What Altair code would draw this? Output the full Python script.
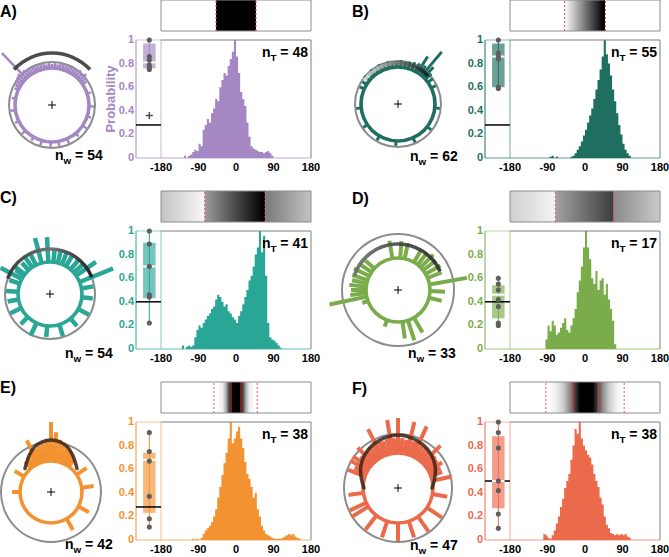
import math

import altair as alt
import pandas as pd

FONT = "Liberation Sans"
W, H = 669, 557
TAU = 2 * math.pi

# ---------------------------------------------------------------- values
panel_labels = ["A)", "B)", "C)", "D)", "E)", "F)"]
panel_colors = ["#a487c3", "#1f6f60", "#2aa696", "#7aac4b", "#f29231", "#ec6a4c"]
n_w_values = [54, 62, 54, 33, 42, 47]
n_t_values = [48, 55, 41, 17, 38, 38]
chance_levels = [0.28, 0.28, 0.40, 0.40, 0.28, 0.50]
x_ticks = [-180, -90, 0, 90, 180]
y_ticks = [0, 0.2, 0.4, 0.6, 0.8, 1]
y_tick_text = ["0", "0.2", "0.4", "0.6", "0.8", "1"]

# probability histograms, 5-degree bins starting at the given angle
hist_step = 5
hist_a_start = -125
hist_a = [0.02, 0.00, 0.02, 0.03, 0.05, 0.07, 0.06, 0.12, 0.10, 0.24,
          0.28, 0.33, 0.30, 0.38, 0.42, 0.50, 0.48, 0.60, 0.66, 0.72,
          0.70, 0.78, 0.84, 0.90, 1.00, 0.86, 0.72, 0.56, 0.50, 0.44,
          0.30, 0.18, 0.10, 0.08, 0.07, 0.06, 0.05, 0.05, 0.04, 0.05,
          0.06, 0.04, 0.02]
hist_b_start = -90
hist_b = [0.00, 0.01, 0.02, 0.00, 0.01, 0.00, 0.00, 0.00, 0.00, 0.00,
          0.00, 0.01, 0.02, 0.04, 0.07, 0.10, 0.14, 0.19, 0.24, 0.30,
          0.36, 0.42, 0.50, 0.58, 0.66, 0.75, 0.86, 1.00, 0.88, 0.80,
          0.70, 0.58, 0.48, 0.38, 0.28, 0.20, 0.12, 0.07, 0.04, 0.02]
hist_c_start = -130
hist_c = [0.03, 0.00, 0.02, 0.03, 0.02, 0.03, 0.10, 0.16, 0.20, 0.18,
          0.22, 0.25, 0.28, 0.30, 0.34, 0.36, 0.42, 0.46, 0.44, 0.40,
          0.36, 0.38, 0.32, 0.30, 0.27, 0.25, 0.22, 0.28, 0.32, 0.38,
          0.44, 0.50, 0.58, 0.62, 0.70, 0.80, 0.86, 1.00, 0.82, 0.96,
          0.62, 0.22, 0.10, 0.08, 0.07, 0.05, 0.03, 0.01]
hist_d_start = -95
hist_d = [0.08, 0.20, 0.15, 0.24, 0.20, 0.12, 0.14, 0.18, 0.22, 0.26,
          0.16, 0.14, 0.20, 0.26, 0.34, 0.48, 0.58, 0.70, 0.86, 1.00,
          0.86, 0.76, 0.60, 0.55, 0.66, 0.50, 0.58, 0.60, 0.46, 0.55,
          0.42, 0.34, 0.24, 0.04]
hist_e_start = -105
hist_e = [0.01, 0.00, 0.01, 0.00, 0.02, 0.05, 0.08, 0.10, 0.12, 0.15,
          0.20, 0.26, 0.36, 0.45, 0.55, 0.65, 0.74, 0.86, 1.00, 0.82,
          0.86, 0.92, 0.96, 0.86, 0.78, 0.66, 0.56, 0.52, 0.45, 0.36,
          0.40, 0.26, 0.20, 0.12, 0.08, 0.05, 0.04, 0.03, 0.02, 0.01,
          0.01, 0.01, 0.01, 0.02, 0.03, 0.04, 0.05, 0.04, 0.05, 0.03,
          0.02, 0.01]
hist_f_start = -100
hist_f = [0.05, 0.04, 0.02, 0.01, 0.04, 0.08, 0.14, 0.20, 0.28, 0.35,
          0.44, 0.50, 0.56, 0.68, 0.80, 0.94, 0.90, 1.00, 0.86, 0.80,
          0.76, 0.72, 0.70, 0.64, 0.56, 0.50, 0.45, 0.36, 0.30, 0.20,
          0.13, 0.10, 0.06, 0.05, 0.04, 0.05, 0.04, 0.05, 0.04, 0.05,
          0.03, 0.02]
hist_starts = [hist_a_start, hist_b_start, hist_c_start, hist_d_start, hist_e_start, hist_f_start]
hists = [hist_a, hist_b, hist_c, hist_d, hist_e, hist_f]

# box plots: low whisker, q1, median, q3, high whisker; then individual points
box_a = [0.75, 0.76, 0.81, 0.97, 1.00]
box_b = [0.59, 0.60, 0.86, 0.97, 1.00]
box_c = [0.22, 0.43, 0.70, 0.90, 1.00]
box_d = [0.20, 0.26, 0.46, 0.54, 0.60]
box_e = [0.11, 0.23, 0.68, 0.74, 0.91]
box_f = [0.10, 0.27, 0.50, 0.88, 1.00]
dots_a = [1.00, 0.86, 0.83, 0.79, 0.77, 0.75]
dots_b = [1.00, 0.89, 0.86, 0.84, 0.60, 0.59]
dots_c = [1.00, 0.89, 0.70, 0.46, 0.44, 0.22]
dots_d = [0.60, 0.55, 0.50, 0.42, 0.36, 0.22, 0.20]
dots_e = [0.91, 0.75, 0.67, 0.37, 0.18, 0.11]
dots_f = [1.00, 0.91, 0.78, 0.50, 0.42, 0.22, 0.10]
outliers_a = [0.36]
boxes = [box_a, box_b, box_c, box_d, box_e, box_f]
dots = [dots_a, dots_b, dots_c, dots_d, dots_e, dots_f]
outliers = [outliers_a, [], [], [], [], []]

# polar rose bars: direction (deg, clockwise from up) and length beyond the base circle
rose_a_angle = [-66, -60, -56, -52, -48, -44, -40, -36, -32, -28, -24, -20, -16, -12, -8, -4,
                0, 4, 8, 12, 16, 20, 24, 28, 32, 36, 40, 44, 48, 52, 56,
                72, 92, 108, 124, 140, 156, 170, 182, 196, 210, 226, 244, 262, 280, 298]
rose_a_len = [4, 6, 7, 8, 9, 35, 8, 6, 7, 5, 6, 5, 6, 5, 4, 5,
              4, 5, 4, 5, 6, 5, 6, 5, 6, 7, 8, 7, 9, 6, 5,
              4, 5, 4, 5, 4, 6, 5, 7, 5, 4, 5, 4, 5, 4, 4]
rose_b_angle = [-58, -50, -44, -38, -32, -26, -20, -14, -8, -2, 4, 10, 16, 22, 28, 32,
                36, 40, 44, 48, 54, 64, 96, 128, 156, 183, 210, 236, 264, 294, 320]
rose_b_len = [5, 7, 6, 7, 6, 7, 6, 7, 6, 6, 7, 6, 7, 8, 9, 19,
              10, 31, 14, 8, 6, 5, 5, 5, 5, 5, 5, 5, 5, 5, 5]
rose_c_angle = [-62, -52, -42, -34, -26, -15, -3, 6, 14, 22, 30, 40, 48, 55,
                68, 80, 96, 118, 140, 163, 185, 205, 224, 244, 260, 274, 289, 305]
rose_c_len = [24, 12, 10, 13, 12, 26, 25, 12, 13, 12, 12, 13, 12, 24,
              36, 12, 11, 12, 10, 12, 11, 14, 10, 12, 11, 12, 11, 10]
rose_d_angle = [-102, -96, -90, -84, -78, -72, -64, -56, -48, -10, 4, 12, 30,
                38, 45, 52, 60, 68, 80, 92, 104, 150, 162, 172, 200, 250]
rose_d_len = [38, 16, 15, 17, 15, 16, 17, 14, 12, 18, 17, 16, 14,
              15, 18, 16, 17, 15, 38, 15, 13, 17, 21, 17, 7, 6]
rose_e_angle = [-60, -40, -34, -28, -25, -20, -15, -10, -5, 0, 5,
                10, 15, 20, 25, 30, 35, 56, 82, 118, 150, 270]
rose_e_len = [11, 9, 11, 14, 26, 15, 17, 19, 22, 39, 29,
              22, 20, 18, 15, 12, 9, 12, 12, 12, 13, 8]
rose_f_angle = [-70, -65, -60, -55, -50, -45, -40, -35, -30, -27, -22, -18, -13, -9, -5,
                0, 5, 10, 14, 18, 22, 25, 30, 35, 40, 45, 50, 55, 60, 65, 70,
                78, 100, 124, 145, 162, 180, 198, 218, 238, 245, 262, 290, 300, 315]
rose_f_len = [12, 13, 14, 20, 14, 22, 14, 15, 14, 31, 15, 14, 15, 34, 15,
              35, 15, 14, 33, 14, 15, 33, 14, 15, 14, 25, 14, 13, 16, 12, 12,
              20, 15, 18, 18, 17, 18, 17, 18, 20, 18, 15, 18, 20, 12]
rose_angles = [rose_a_angle, rose_b_angle, rose_c_angle, rose_d_angle, rose_e_angle, rose_f_angle]
rose_lengths = [rose_a_len, rose_b_len, rose_c_len, rose_d_len, rose_e_len, rose_f_len]

# preferred-direction arcs (A-D) and tuning curves (E, F) around the roses
arc_span = [(-47, 47), (-55, 47), (-70, 68), (-72, 66)]
arc_radius = [52, 41, 45, 46]
arc_colors = [["#3a3a3a", "#3a3a3a"], ["#e2e2e2", "#101010"],
              ["#303030", "#707070", "#151515"], ["#707070", "#444444", "#2a2a2a"]]
curve_e_angle = [-48, -40, -30, -20, -10, 0, 10, 20, 30, 40, 48]
curve_e_radius = [35, 38, 43, 48, 51, 52, 51, 48, 43, 38, 35]
curve_f_angle = [-90, -75, -60, -45, -30, -15, 0, 15, 30, 45, 60, 75, 90]
curve_f_radius = [34, 38, 43, 47, 50, 52, 53, 52, 50, 47, 43, 38, 34]

# tuning strips: (from, to, [(angle, gray), ...])
grad_a = [(-48, 48, [(-48, "#000000"), (48, "#000000")])]
grad_b = [(-49, 48, [(-49, "#ffffff"), (44, "#000000"), (48, "#000000")])]
grad_c = [(-180, -75, [(-180, "#c4c4c4"), (-75, "#f7f7f7")]),
          (-75, 70, [(-75, "#9c9c9c"), (66, "#000000"), (70, "#000000")]),
          (70, 180, [(70, "#7a7a7a"), (180, "#c2c2c2")])]
grad_d = [(-180, -71, [(-180, "#d0d0d0"), (-71, "#f3f3f3")]),
          (-71, 69, [(-71, "#a2a2a2"), (66, "#3e3e3e"), (69, "#3e3e3e")]),
          (69, 180, [(69, "#8a8a8a"), (180, "#cacaca")])]
grad_e = [(-45, 45, [(-45, "#ffffff"), (-32, "#ececec"), (-24, "#b0b0b0"), (-17, "#505050"),
                     (-12, "#000000"), (12, "#000000"), (17, "#505050"), (24, "#b0b0b0"),
                     (32, "#ececec"), (45, "#ffffff")])]
grad_f = [(-94, 94, [(-94, "#ffffff"), (-72, "#f2f2f2"), (-52, "#cccccc"), (-36, "#8a8a8a"),
                     (-22, "#363636"), (-12, "#000000"), (18, "#000000"), (28, "#363636"),
                     (42, "#8a8a8a"), (58, "#cccccc"), (76, "#f2f2f2"), (94, "#ffffff")])]
grads = [grad_a, grad_b, grad_c, grad_d, grad_e, grad_f]
dashed_marks = [[-48, 48], [-49, 49], [-75, 70], [-71, 69], [-53, 51], [-94, 94]]
solid_marks = [[], [], [], [], [-12, 12], [-30, 32]]

# ---------------------------------------------------------------- layout (pixels)
col_left = [0, 349]
hist_top = [40, 40, 231, 231, 422, 422]
HIST_H = 118
circle_xy = [(52, 105), (398, 104), (50, 294), (398, 290), (51, 492), (398, 488)]
r_inner = [37, 37, 32, 32, 31, 35]
r_outer = [43, 43, 45, 56, 50, 54]
bar_width = [2.5, 3, 4.5, 4, 4, 4]
letter_xy = [(0, 17), (352, 17), (0, 203), (352, 204), (0, 393), (352, 394)]
nw_xy = [(55, 160), (410, 161), (65, 358), (408, 358), (65, 549), (410, 550)]
X_DOMAIN = [-240, 180]
BOX_X, BOX_HALF = -208, 15

BOLD_EM = {"n": 0.611, "w": 0.778, "T": 0.611, " ": 0.278, "=": 0.584}


def text_width(s, size):
    return sum(BOLD_EM.get(ch, 0.556) for ch in s) * size


def frame(**cols):
    return pd.DataFrame({k: (v if isinstance(v, list) else [v]) for k, v in cols.items()})


def text_layer(txt, x, y, size, color="black", align="left"):
    return alt.Chart(frame(t=txt)).mark_text(
        align=align, baseline="alphabetic", font=FONT, fontWeight="bold",
        fontSize=size, color=color,
    ).encode(x=alt.value(x), y=alt.value(y), text="t:N")


def sub_label(sub, rest, x, y, size=14, anchor="left"):
    w_main = text_width("n", size)
    w_sub = text_width(sub, size * 0.7)
    gap = text_width(" ", size)
    total = w_main + w_sub + gap + text_width(rest, size)
    x0 = x if anchor == "left" else x - total
    return [
        text_layer("n", x0, y, size),
        text_layer(sub, x0 + w_main, y + size * 0.3, size * 0.7),
        text_layer(rest, x0 + w_main + w_sub + gap, y, size),
    ]


def gradient(stops_by_angle, a0, a1):
    return alt.LinearGradient(
        gradient="linear", x1=0, x2=1, y1=0, y2=0,
        stops=[alt.GradientStop(color=c, offset=(a - a0) / (a1 - a0)) for a, c in stops_by_angle],
    )


def polar_group(i):
    cx, cy = circle_xy[i]
    sx = alt.Scale(domain=[-80, 80], range=[cx - 80, cx + 80], nice=False, zero=False)
    sy = alt.Scale(domain=[-80, 80], range=[cy + 80, cy - 80], nice=False, zero=False)

    def ex(f):
        return alt.X(f, type="quantitative", scale=sx, axis=None)

    def ey(f):
        return alt.Y(f, type="quantitative", scale=sy, axis=None)

    col = panel_colors[i]
    rin, rout = r_inner[i], r_outer[i]
    origin = frame(x=0, y=0)
    parts = [
        alt.Chart(origin).mark_arc(radius=rout + 1, radius2=rout - 1, theta=0, theta2=TAU,
                                   color="#8c8c8c").encode(x=ex("x"), y=ey("y")),
        alt.Chart(frame(a=rose_angles[i], l=rose_lengths[i])).transform_calculate(
            x0=f"{rin} * sin(datum.a * PI / 180)",
            y0=f"{rin} * cos(datum.a * PI / 180)",
            x1=f"({rin} + datum.l) * sin(datum.a * PI / 180)",
            y1=f"({rin} + datum.l) * cos(datum.a * PI / 180)",
        ).mark_rule(color=col, strokeWidth=bar_width[i]).encode(
            x=ex("x0"), y=ey("y0"), x2=alt.X2("x1"), y2=alt.Y2("y1")),
        alt.Chart(origin).mark_arc(radius=rin + 1.8, radius2=rin - 1.8, theta=0, theta2=TAU,
                                   color=col).encode(x=ex("x"), y=ey("y")),
    ]
    if i < 4:
        a0, a1 = arc_span[i]
        t0 = math.radians(a0 % 360)
        t1 = t0 + math.radians(a1 - a0)
        cols = arc_colors[i]
        fill = alt.LinearGradient(
            gradient="linear", x1=0, x2=1, y1=0, y2=0,
            stops=[alt.GradientStop(color=c, offset=k / (len(cols) - 1)) for k, c in enumerate(cols)],
        )
        parts.append(alt.Chart(origin).mark_arc(
            radius=arc_radius[i] + 1.8, radius2=arc_radius[i] - 1.8, theta=t0, theta2=t1,
            fill=fill, opacity=0.9).encode(x=ex("x"), y=ey("y")))
    else:
        ang, rad = (curve_e_angle, curve_e_radius) if i == 4 else (curve_f_angle, curve_f_radius)
        parts.append(alt.Chart(frame(a=ang, r=rad)).transform_calculate(
            x="datum.r * sin(datum.a * PI / 180)",
            y="datum.r * cos(datum.a * PI / 180)",
        ).mark_line(color="#3b2418", strokeWidth=3.5, opacity=0.85, interpolate="cardinal",
                    strokeCap="round").encode(x=ex("x"), y=ey("y"), order=alt.Order("a:Q")))
    parts.append(alt.Chart(origin).mark_point(
        shape="M-1,0L1,0M0,-1L0,1", size=64, filled=False, strokeWidth=1, color="black",
        opacity=1).encode(x=ex("x"), y=ey("y")))
    return alt.layer(*parts)


def strip_group(i):
    ox, top = col_left[i % 2], hist_top[i]
    sx = alt.Scale(domain=X_DOMAIN, range=[ox + 136, ox + 311], nice=False, zero=False)
    sy = alt.Scale(domain=[0, 1], range=[top - 9, top - 40], nice=False, zero=False)

    def ex(f):
        return alt.X(f, type="quantitative", scale=sx, axis=None)

    def ey(f):
        return alt.Y(f, type="quantitative", scale=sy, axis=None)

    parts = []
    for a0, a1, stops in grads[i]:
        parts.append(alt.Chart(frame(a0=a0, a1=a1, y0=0, y1=1)).mark_rect(
            fill=gradient(stops, a0, a1)).encode(x=ex("a0"), x2=alt.X2("a1"), y=ey("y0"), y2=alt.Y2("y1")))
    parts.append(alt.Chart(frame(a0=-180, a1=180, y0=0, y1=1)).mark_rect(
        fillOpacity=0, stroke="#8c8c8c", strokeWidth=1).encode(
        x=ex("a0"), x2=alt.X2("a1"), y=ey("y0"), y2=alt.Y2("y1")))
    parts.append(alt.Chart(frame(a=dashed_marks[i], y0=[0, 0], y1=[1, 1])).mark_rule(
        color="#ff5050", strokeDash=[2, 2], strokeWidth=1).encode(x=ex("a"), y=ey("y0"), y2=alt.Y2("y1")))
    if solid_marks[i]:
        parts.append(alt.Chart(frame(a=solid_marks[i], y0=[0, 0], y1=[1, 1])).mark_rule(
            color="#e03c3c", strokeWidth=1).encode(x=ex("a"), y=ey("y0"), y2=alt.Y2("y1")))
    return alt.layer(*parts)


def hist_group(i):
    ox, top = col_left[i % 2], hist_top[i]
    col = panel_colors[i]
    sx = alt.Scale(domain=X_DOMAIN, range=[ox + 136, ox + 311], nice=False, zero=False)
    sy = alt.Scale(domain=[0, 1], range=[top + HIST_H, top], nice=False, zero=False)

    def ex(f):
        return alt.X(f, type="quantitative", scale=sx, axis=None)

    def ey(f):
        return alt.Y(f, type="quantitative", scale=sy, axis=None)

    vals = hists[i]
    angles = [hist_starts[i] + hist_step * k for k in range(len(vals) + 1)]
    hist_df = frame(a=angles, p=vals + [0])
    lo, q1, med, q3, hi = boxes[i]
    label_style = dict(font=FONT, fontWeight="bold", fontSize=11)
    parts = [
        alt.Chart(hist_df).mark_area(interpolate="step-after", color=col, opacity=1).encode(
            x=ex("a"), y=ey("p")),
        # axis lines and frame
        alt.Chart(frame(a0=-240, a1=180, y=0)).mark_rule(color=col, opacity=0.7, strokeWidth=1).encode(
            x=ex("a0"), x2=alt.X2("a1"), y=ey("y")),
        alt.Chart(frame(a=-240, y0=0, y1=1)).mark_rule(color=col, strokeWidth=1).encode(
            x=ex("a"), y=ey("y0"), y2=alt.Y2("y1")),
        alt.Chart(frame(a0=-180, a1=180, y=1)).mark_rule(color="#7f7f7f", strokeWidth=1).encode(
            x=ex("a0"), x2=alt.X2("a1"), y=ey("y")),
        alt.Chart(frame(a=180, y0=0, y1=1)).mark_rule(color="#7f7f7f", strokeWidth=1).encode(
            x=ex("a"), y=ey("y0"), y2=alt.Y2("y1")),
        alt.Chart(frame(a=-180, y0=0, y1=1)).mark_rule(color=col, opacity=0.6, strokeWidth=1).encode(
            x=ex("a"), y=ey("y0"), y2=alt.Y2("y1")),
        alt.Chart(frame(a0=-240, a1=-180, y=1)).mark_rule(color=col, opacity=0.5, strokeWidth=1).encode(
            x=ex("a0"), x2=alt.X2("a1"), y=ey("y")),
        # tick labels
        alt.Chart(frame(a=x_ticks, t=[str(v) for v in x_ticks])).mark_text(
            align="center", baseline="top", color="black", **label_style).encode(
            x=ex("a"), y=alt.value(top + HIST_H + 4), text="t:N"),
        alt.Chart(frame(p=y_ticks, t=y_tick_text)).mark_text(
            align="right", baseline="middle", color=col, **label_style).encode(
            x=alt.value(ox + 134), y=ey("p"), text="t:N"),
        # box plot of individual cells
        alt.Chart(frame(a=BOX_X, y0=lo, y1=hi)).mark_rule(color=col, strokeWidth=1).encode(
            x=ex("a"), y=ey("y0"), y2=alt.Y2("y1")),
        alt.Chart(frame(a0=BOX_X - BOX_HALF, a1=BOX_X + BOX_HALF, y0=q1, y1=q3)).mark_rect(
            color=col, opacity=0.65).encode(x=ex("a0"), x2=alt.X2("a1"), y=ey("y0"), y2=alt.Y2("y1")),
        alt.Chart(frame(a0=-240, a1=-180, y=chance_levels[i])).mark_rule(
            color="black", strokeWidth=1.5).encode(x=ex("a0"), x2=alt.X2("a1"), y=ey("y")),
        alt.Chart(frame(a0=BOX_X - BOX_HALF, a1=BOX_X + BOX_HALF, y=med)).mark_rule(
            color="white", strokeWidth=2).encode(x=ex("a0"), x2=alt.X2("a1"), y=ey("y")),
        alt.Chart(frame(a=[BOX_X] * len(dots[i]), y=dots[i])).mark_circle(
            size=26, color="#5e5e5e", opacity=1).encode(x=ex("a"), y=ey("y")),
    ]
    if outliers[i]:
        parts.append(alt.Chart(frame(a=[BOX_X] * len(outliers[i]), y=outliers[i])).mark_point(
            shape="M-1,0L1,0M0,-1L0,1", size=49, filled=False, strokeWidth=1.5,
            color="#505050", opacity=1).encode(x=ex("a"), y=ey("y")))
    if i == 0:
        parts.append(alt.Chart(frame(t="Probability", p=0.5)).mark_text(
            angle=270, align="center", baseline="alphabetic", font=FONT, fontWeight="bold",
            fontSize=13, color=col).encode(x=alt.value(ox + 115), y=ey("p"), text="t:N"))
    return alt.layer(*parts)


groups = []
for i in range(6):
    ox, top = col_left[i % 2], hist_top[i]
    groups.append(strip_group(i))
    groups.append(hist_group(i))
    groups.append(polar_group(i))
    lx, ly = letter_xy[i]
    groups.append(text_layer(panel_labels[i], lx, ly, 16))
    groups.extend(sub_label("w", f"= {n_w_values[i]}", nw_xy[i][0], nw_xy[i][1]))
    groups.extend(sub_label("T", f"= {n_t_values[i]}", ox + 308, top + 17, anchor="right"))

chart = alt.layer(*groups).resolve_scale(x="independent", y="independent").properties(
    width=W, height=H, padding=0, background="white",
    autosize=alt.AutoSizeParams(type="none"),
).configure_view(stroke=None)

chart.save("out.html", embed_options={"renderer": "svg", "actions": False})
